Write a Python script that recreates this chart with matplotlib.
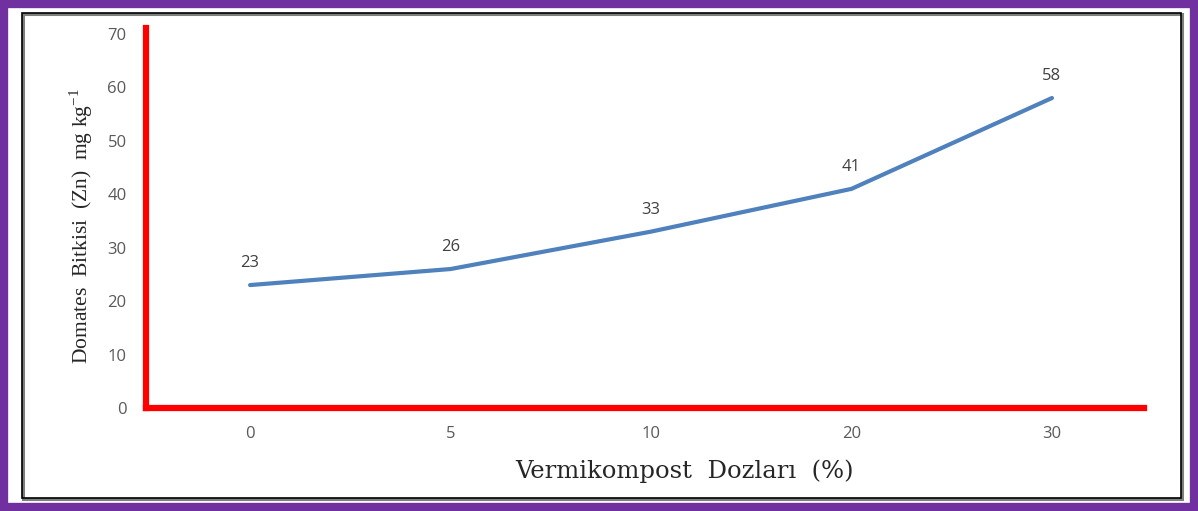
import matplotlib
matplotlib.use("Agg")
import matplotlib.pyplot as plt
from matplotlib.patches import Rectangle

doses = ["0", "5", "10", "20", "30"]
zn = [23, 26, 33, 41, 58]
y_ticks = [0, 10, 20, 30, 40, 50, 60, 70]

fig = plt.figure(figsize=(11.98, 5.11), dpi=100)
ax = fig.add_axes([0.1219, 0.2016, 0.833, 0.7436])

xs = list(range(len(doses)))
ax.plot(xs, zn, color="#4F81BD", linewidth=3, solid_capstyle="round")
for x, v in zip(xs, zn):
    ax.annotate(str(v), (x, v), xytext=(0, 10), textcoords="offset points",
                ha="center", va="bottom", fontsize=12, color="#404040",
                family="Open Sans")

ax.set_xlim(-0.519, 4.459)
ax.set_ylim(0, 71.1)
ax.set_xticks(xs)
ax.set_xticklabels(doses)
ax.set_yticks(y_ticks)
for lab in ax.get_xticklabels() + ax.get_yticklabels():
    lab.set_family("Open Sans")
    lab.set_fontsize(12)
    lab.set_color("#595959")
ax.tick_params(length=0, pad=14)
ax.tick_params(axis="x", pad=13)

for s in ["top", "right"]:
    ax.spines[s].set_visible(False)
for s in ["left", "bottom"]:
    ax.spines[s].set_color("#FF0000")
    ax.spines[s].set_linewidth(4.5)

ax.set_ylabel("Domates  Bitkisi  (Zn)  mg kg$^{\\mathregular{-1}}$",
              family="Liberation Serif", fontsize=15.5, color="#262626")
ax.yaxis.set_label_coords(-0.051, 0.478)
ax.set_xlabel("Vermikompost  Dozları  (%)", family="DejaVu Serif",
              fontsize=17.5, color="#262626")
ax.xaxis.set_label_coords(0.54, -0.136)

# frames
W, H = 1198, 511
fig.patches.append(Rectangle((23 / W, 1 - 499 / H), (1182 - 23) / W, (499 - 14) / H,
                             transform=fig.transFigure, fill=False,
                             edgecolor="#7F7F7F", linewidth=2.2, zorder=5))
fig.patches.append(Rectangle((22 / W, 1 - 498 / H), (1181 - 22) / W, (498 - 13) / H,
                             transform=fig.transFigure, fill=False,
                             edgecolor="black", linewidth=1.2, zorder=6))
fig.patches.append(Rectangle((4 / W, 4 / H), (W - 8) / W, (H - 8) / H,
                             transform=fig.transFigure, fill=False,
                             edgecolor="#7030A0", linewidth=6, zorder=7))

fig.savefig("out.png", dpi=100)
